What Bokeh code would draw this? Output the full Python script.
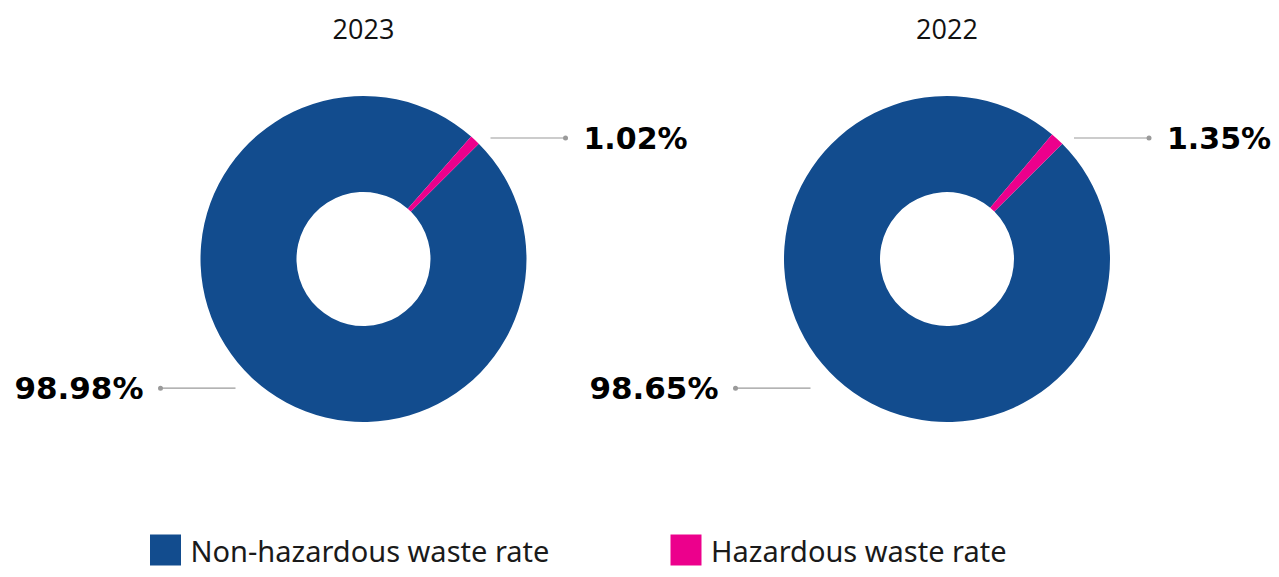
import math
from bokeh.plotting import figure
from bokeh.models import Range1d, ColumnDataSource
from bokeh.core.properties import value
from bokeh.embed import file_html
from bokeh.resources import INLINE

# ---- data ----
years = ["2023", "2022"]
non_hazardous = [98.98, 98.65]
hazardous = [1.02, 1.35]
categories = ["Non-hazardous waste rate", "Hazardous waste rate"]
colors = ["#124C8E", "#EC008C"]

# ---- layout (pixel-like data units, y measured from bottom) ----
W, H = 1271, 569
centers_x = [363, 946.5]
left_shift = [0, -8.5]
center_y = H - 258.5
r_out, r_in = 163, 67
start = math.pi / 4

p = figure(width=W, height=H, output_backend="svg", toolbar_location=None,
           x_range=Range1d(0, W), y_range=Range1d(0, H),
           x_axis_location=None, y_axis_location=None, min_border=0)
p.grid.visible = False
p.outline_line_color = None
p.background_fill_color = "white"
p.border_fill_color = "white"

xs, haz_s, haz_e, non_s, non_e = [], [], [], [], []
for cx, nh, hz in zip(centers_x, non_hazardous, hazardous):
    tot = nh + hz
    xs.append(cx)
    a1 = start + hz / tot * 2 * math.pi
    haz_s.append(start)
    haz_e.append(a1)
    non_s.append(a1)
    non_e.append(start + 2 * math.pi)

src = ColumnDataSource(dict(x=xs, y=[center_y] * 2, hs=haz_s, he=haz_e, ns=non_s, ne=non_e))
p.annular_wedge(x="x", y="y", inner_radius=r_in, outer_radius=r_out,
                start_angle="ns", end_angle="ne", fill_color=colors[0],
                line_color=None, source=src)
p.annular_wedge(x="x", y="y", inner_radius=r_in, outer_radius=r_out,
                start_angle="hs", end_angle="he", fill_color=colors[1],
                line_color=None, source=src)

# titles
p.text(x=centers_x, y=[H - 28] * 2, text=years, text_align="center",
       text_baseline="middle", text_font=value("Open Sans"), text_font_size="27px",
       text_color="#111111")

# leader lines and labels
y_hz = H - 137.5
y_nh = H - 387.7
for cx, ls, nh, hz in zip(centers_x, left_shift, non_hazardous, hazardous):
    p.line([cx + 127, cx + 202], [y_hz, y_hz], line_color="#9a9a9a", line_width=1.2)
    p.scatter([cx + 202], [y_hz], size=5, fill_color="#9a9a9a", line_color=None)
    p.line([cx - 128 + ls, cx - 203 + ls], [y_nh, y_nh], line_color="#9a9a9a", line_width=1.2)
    p.scatter([cx - 203 + ls], [y_nh], size=5, fill_color="#9a9a9a", line_color=None)
    p.text(x=[cx + 220], y=[y_hz], text=[f"{hz:.2f}%"], text_align="left",
           text_baseline="middle", text_font=value("DejaVu Sans"),
           text_font_style="bold", text_font_size="30px", text_color="#000000")
    p.text(x=[cx - 220 + ls], y=[y_nh], text=[f"{nh:.2f}%"], text_align="right",
           text_baseline="middle", text_font=value("DejaVu Sans"),
           text_font_style="bold", text_font_size="31px", text_color="#000000")

# legend
leg_x = [165, 685.5]
leg_y = H - 549.5
p.rect(x=leg_x, y=[leg_y] * 2, width=31, height=31, fill_color=colors,
       line_color=None)
p.text(x=[x + 25 for x in leg_x], y=[leg_y] * 2, text=categories, text_align="left",
       text_baseline="middle", text_font=value("Noto Sans"),
       text_font_size="29px", text_color="#1a1a1a")

open("out.html", "w").write(file_html(p, INLINE))
